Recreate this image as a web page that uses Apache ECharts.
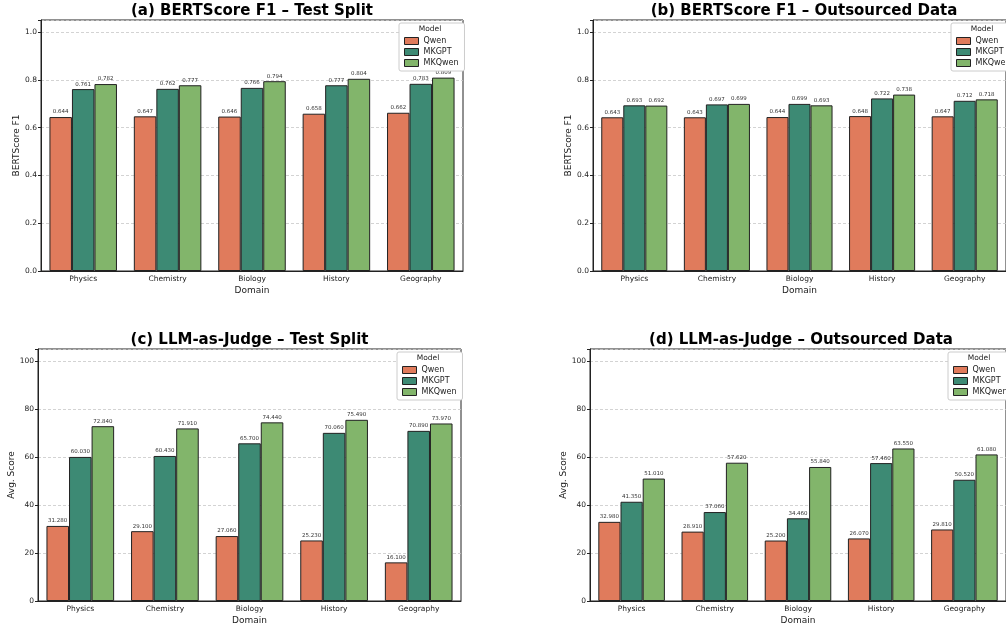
<!DOCTYPE html>
<html>
<head>
<meta charset="utf-8">
<script src="https://cdn.jsdelivr.net/npm/echarts@6/dist/echarts.min.js"></script>
<style>
  html, body { margin: 0; padding: 0; background: #fff; }
  #main { width: 1006px; height: 628px; }
</style>
</head>
<body>
<div id="main"></div>
<script>
// data
var domains = ["Physics", "Chemistry", "Biology", "History", "Geography"];
var models = ["Qwen", "MKGPT", "MKQwen"];
var colors = ["#E07B5C", "#3D8A74", "#82B56B"];

// (a) BERTScore F1 - test split
var bertTestQwen = [0.644, 0.647, 0.646, 0.658, 0.662];
var bertTestMKGPT = [0.761, 0.762, 0.766, 0.777, 0.783];
var bertTestMKQwen = [0.782, 0.777, 0.794, 0.804, 0.809];
// (b) BERTScore F1 - outsourced
var bertOutQwen = [0.643, 0.643, 0.644, 0.648, 0.647];
var bertOutMKGPT = [0.693, 0.697, 0.699, 0.722, 0.712];
var bertOutMKQwen = [0.692, 0.699, 0.693, 0.738, 0.718];
// (c) LLM-as-Judge - test split
var judgeTestQwen = [31.28, 29.10, 27.06, 25.23, 16.10];
var judgeTestMKGPT = [60.03, 60.43, 65.70, 70.06, 70.89];
var judgeTestMKQwen = [72.84, 71.91, 74.44, 75.49, 73.97];
// (d) LLM-as-Judge - outsourced
var judgeOutQwen = [32.98, 28.91, 25.20, 26.07, 29.81];
var judgeOutMKGPT = [41.35, 37.06, 34.46, 57.46, 50.52];
var judgeOutMKQwen = [51.01, 57.62, 55.84, 63.55, 61.08];

var bertTicks = [0.0, 0.2, 0.4, 0.6, 0.8, 1.0];
var judgeTicks = [0, 20, 40, 60, 80, 100];

var panels = [
  { title: "(a) BERTScore F1 \u2013 Test Split", yName: "BERTScore F1", max: 1.05, interval: 0.2, ticks: bertTicks, digits: 1,
    data: [bertTestQwen, bertTestMKGPT, bertTestMKQwen],
    grid: { left: 41, top: 20, width: 422, height: 251 }, nameGap: 20 },
  { title: "(b) BERTScore F1 \u2013 Outsourced Data", yName: "BERTScore F1", max: 1.05, interval: 0.2, ticks: bertTicks, digits: 1,
    data: [bertOutQwen, bertOutMKGPT, bertOutMKQwen],
    grid: { left: 593, top: 20, width: 422, height: 251 }, nameGap: 20 },
  { title: "(c) LLM-as-Judge \u2013 Test Split", yName: "Avg. Score", max: 105, interval: 20, ticks: judgeTicks, digits: 0,
    data: [judgeTestQwen, judgeTestMKGPT, judgeTestMKQwen],
    grid: { left: 38, top: 349, width: 423, height: 252 }, nameGap: 22 },
  { title: "(d) LLM-as-Judge \u2013 Outsourced Data", yName: "Avg. Score", max: 105, interval: 20, ticks: judgeTicks, digits: 0,
    data: [judgeOutQwen, judgeOutMKGPT, judgeOutMKQwen],
    grid: { left: 590, top: 349, width: 422, height: 252 }, nameGap: 22 }
];

var font = "DejaVu Sans";
var option = { animation: false, backgroundColor: "#fff", textStyle: { fontFamily: font },
  title: [], grid: [], xAxis: [], yAxis: [], series: [], legend: [] };

panels.forEach(function (p, i) {
  var g = p.grid;
  option.grid.push({ left: g.left, top: g.top, width: g.width, height: g.height,
    show: true, borderColor: "#222", borderWidth: 1, containLabel: false });
  option.title.push({ text: p.title, left: g.left + g.width / 2, top: g.top - 16, textAlign: "center", padding: 0,
    textStyle: { fontFamily: font, fontSize: 15, fontWeight: "bold", color: "#000" } });
  // legend title
  option.title.push({ text: "Model", left: g.left + g.width - 33, top: g.top + 5, textAlign: "center", padding: 0,
    textStyle: { fontFamily: font, fontSize: 7.5, fontWeight: "normal", color: "#222" } });
  option.legend.push({ data: models, orient: "vertical", left: g.left + g.width - 64, top: g.top + 3,
    padding: [14, 6, 4, 5], itemGap: 3, itemWidth: 14, itemHeight: 7, icon: "rect",
    backgroundColor: "#fff", borderColor: "#ccc", borderWidth: 1, borderRadius: 2,
    textStyle: { fontFamily: font, fontSize: 8, color: "#222" },
    itemStyle: { borderColor: "#222", borderWidth: 1 }, selectedMode: false });
  option.xAxis.push({ type: "category", gridIndex: i, data: domains,
    name: "Domain", nameLocation: "middle", nameGap: 15,
    nameTextStyle: { fontFamily: font, fontSize: 9, color: "#222" },
    axisLine: { lineStyle: { color: "#222", width: 1 } },
    axisTick: { alignWithLabel: true, length: 3, lineStyle: { color: "#222" } },
    axisLabel: { fontFamily: font, fontSize: 7.5, color: "#222", margin: 4 } });
  option.yAxis.push({ type: "value", gridIndex: i, min: 0, max: p.max, interval: p.interval,
    name: p.yName, nameLocation: "middle", nameGap: p.nameGap,
    nameTextStyle: { fontFamily: font, fontSize: 9, color: "#222" },
    axisLine: { show: true, lineStyle: { color: "#222", width: 1 } },
    axisTick: { show: true, length: 3, lineStyle: { color: "#222" } },
    axisLabel: { fontFamily: font, fontSize: 7.5, color: "#222", margin: 4,
      formatter: function (v) { return v > p.ticks[p.ticks.length - 1] + 1e-6 ? "" : v.toFixed(p.digits); } },
    splitLine: { show: true, lineStyle: { color: "#c8c8c8", type: [3, 2], width: 0.8 } } });
  models.forEach(function (m, k) {
    option.series.push({ type: "bar", name: m, xAxisIndex: i, yAxisIndex: i, data: p.data[k],
      barGap: "0%", barCategoryGap: "20%",
      itemStyle: { color: colors[k], borderColor: "#222", borderWidth: 1 },
      label: { show: true, position: "top", distance: 2, fontFamily: font, fontSize: 5.5, color: "#333",
        formatter: function (d) { return d.value.toFixed(3); } } });
  });
});

var chart = echarts.init(document.getElementById("main"), null, { renderer: "canvas" });
chart.setOption(option);
</script>
</body>
</html>
